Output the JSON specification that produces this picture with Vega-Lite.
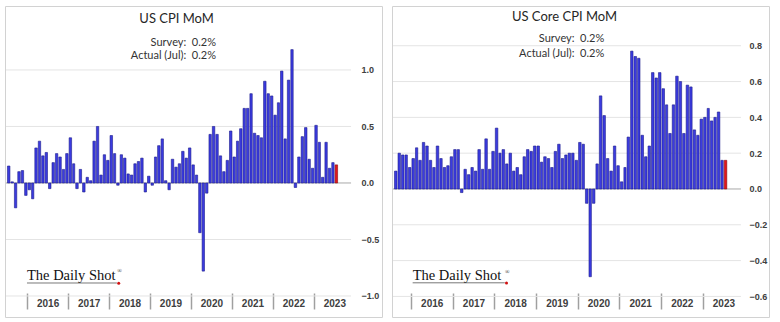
{
  "$schema": "https://vega.github.io/schema/vega-lite/v6.json",
  "padding": {"left": 4, "top": 5, "right": 0, "bottom": 0},
  "background": "white",
  "bounds": "flush",
  "spacing": 10,
  "datasets": {
    "m": [
      {"d":"2015-07-15","cpi":0.15,"core":null},
      {"d":"2015-08-15","cpi":0.01,"core":0.10},
      {"d":"2015-09-15","cpi":-0.22,"core":0.20},
      {"d":"2015-10-15","cpi":0.10,"core":0.19},
      {"d":"2015-11-15","cpi":0.11,"core":0.19},
      {"d":"2015-12-15","cpi":-0.11,"core":0.12},
      {"d":"2016-01-15","cpi":-0.06,"core":0.17},
      {"d":"2016-02-15","cpi":-0.14,"core":0.23},
      {"d":"2016-03-15","cpi":0.31,"core":0.16},
      {"d":"2016-04-15","cpi":0.37,"core":0.26},
      {"d":"2016-05-15","cpi":0.24,"core":0.24},
      {"d":"2016-06-15","cpi":0.27,"core":0.16},
      {"d":"2016-07-15","cpi":-0.05,"core":0.12},
      {"d":"2016-08-15","cpi":0.18,"core":0.24},
      {"d":"2016-09-15","cpi":0.26,"core":0.17},
      {"d":"2016-10-15","cpi":0.23,"core":0.12},
      {"d":"2016-11-15","cpi":0.12,"core":0.13},
      {"d":"2016-12-15","cpi":0.26,"core":0.18},
      {"d":"2017-01-15","cpi":0.40,"core":0.22},
      {"d":"2017-02-15","cpi":0.17,"core":0.22},
      {"d":"2017-03-15","cpi":-0.05,"core":-0.02},
      {"d":"2017-04-15","cpi":0.12,"core":0.11},
      {"d":"2017-05-15","cpi":-0.08,"core":0.08},
      {"d":"2017-06-15","cpi":0.05,"core":0.12},
      {"d":"2017-07-15","cpi":0.02,"core":0.10},
      {"d":"2017-08-15","cpi":0.37,"core":0.22},
      {"d":"2017-09-15","cpi":0.50,"core":0.11},
      {"d":"2017-10-15","cpi":0.07,"core":0.28},
      {"d":"2017-11-15","cpi":0.25,"core":0.11},
      {"d":"2017-12-15","cpi":0.20,"core":0.21},
      {"d":"2018-01-15","cpi":0.42,"core":0.34},
      {"d":"2018-02-15","cpi":0.26,"core":0.20},
      {"d":"2018-03-15","cpi":-0.02,"core":0.22},
      {"d":"2018-04-15","cpi":0.25,"core":0.14},
      {"d":"2018-05-15","cpi":0.22,"core":0.20},
      {"d":"2018-06-15","cpi":0.08,"core":0.10},
      {"d":"2018-07-15","cpi":0.07,"core":0.12},
      {"d":"2018-08-15","cpi":0.17,"core":0.08},
      {"d":"2018-09-15","cpi":0.19,"core":0.18},
      {"d":"2018-10-15","cpi":0.22,"core":0.22},
      {"d":"2018-11-15","cpi":-0.08,"core":0.21},
      {"d":"2018-12-15","cpi":0.06,"core":0.24},
      {"d":"2019-01-15","cpi":-0.02,"core":0.24},
      {"d":"2019-02-15","cpi":0.23,"core":0.15},
      {"d":"2019-03-15","cpi":0.33,"core":0.18},
      {"d":"2019-04-15","cpi":0.39,"core":0.17},
      {"d":"2019-05-15","cpi":0.02,"core":0.12},
      {"d":"2019-06-15","cpi":-0.06,"core":0.21},
      {"d":"2019-07-15","cpi":0.21,"core":0.25},
      {"d":"2019-08-15","cpi":0.14,"core":0.17},
      {"d":"2019-09-15","cpi":0.17,"core":0.19},
      {"d":"2019-10-15","cpi":0.28,"core":0.20},
      {"d":"2019-11-15","cpi":0.22,"core":0.20},
      {"d":"2019-12-15","cpi":0.31,"core":0.16},
      {"d":"2020-01-15","cpi":0.16,"core":0.26},
      {"d":"2020-02-15","cpi":0.07,"core":0.25},
      {"d":"2020-03-15","cpi":-0.44,"core":-0.08},
      {"d":"2020-04-15","cpi":-0.78,"core":-0.49},
      {"d":"2020-05-15","cpi":-0.09,"core":-0.08},
      {"d":"2020-06-15","cpi":0.43,"core":0.14},
      {"d":"2020-07-15","cpi":0.50,"core":0.52},
      {"d":"2020-08-15","cpi":0.43,"core":0.41},
      {"d":"2020-09-15","cpi":0.24,"core":0.17},
      {"d":"2020-10-15","cpi":0.10,"core":0.10},
      {"d":"2020-11-15","cpi":0.20,"core":0.24},
      {"d":"2020-12-15","cpi":0.46,"core":0.13},
      {"d":"2021-01-15","cpi":0.23,"core":0.04},
      {"d":"2021-02-15","cpi":0.37,"core":0.12},
      {"d":"2021-03-15","cpi":0.48,"core":0.29},
      {"d":"2021-04-15","cpi":0.66,"core":0.77},
      {"d":"2021-05-15","cpi":0.66,"core":0.74},
      {"d":"2021-06-15","cpi":0.79,"core":0.73},
      {"d":"2021-07-15","cpi":0.44,"core":0.30},
      {"d":"2021-08-15","cpi":0.42,"core":0.18},
      {"d":"2021-09-15","cpi":0.40,"core":0.24},
      {"d":"2021-10-15","cpi":0.90,"core":0.65},
      {"d":"2021-11-15","cpi":0.79,"core":0.62},
      {"d":"2021-12-15","cpi":0.77,"core":0.65},
      {"d":"2022-01-15","cpi":0.60,"core":0.56},
      {"d":"2022-02-15","cpi":0.71,"core":0.47},
      {"d":"2022-03-15","cpi":0.99,"core":0.31},
      {"d":"2022-04-15","cpi":0.39,"core":0.47},
      {"d":"2022-05-15","cpi":0.91,"core":0.63},
      {"d":"2022-06-15","cpi":1.18,"core":0.60},
      {"d":"2022-07-15","cpi":-0.04,"core":0.31},
      {"d":"2022-08-15","cpi":0.23,"core":0.58},
      {"d":"2022-09-15","cpi":0.41,"core":0.57},
      {"d":"2022-10-15","cpi":0.49,"core":0.33},
      {"d":"2022-11-15","cpi":0.21,"core":0.30},
      {"d":"2022-12-15","cpi":0.13,"core":0.39},
      {"d":"2023-01-15","cpi":0.51,"core":0.40},
      {"d":"2023-02-15","cpi":0.36,"core":0.45},
      {"d":"2023-03-15","cpi":0.05,"core":0.38},
      {"d":"2023-04-15","cpi":0.36,"core":0.40},
      {"d":"2023-05-15","cpi":0.13,"core":0.43},
      {"d":"2023-06-15","cpi":0.18,"core":0.16},
      {"d":"2023-07-15","cpi":0.16,"core":0.16}
    ],
    "gridL": [{"g": -1}, {"g": -0.5}, {"g": 0.5}, {"g": 1}],
    "gridR": [{"g": -0.6}, {"g": -0.4}, {"g": -0.2}, {"g": 0.2}, {"g": 0.4}, {"g": 0.6}, {"g": 0.8}]
  },
  "hconcat": [
    {
      "width": 377,
      "height": 311,
      "encoding": {
        "x": {
          "type": "temporal",
          "scale": {"domain": [{"year": 2015, "month": 6, "date": 18}, {"year": 2024, "month": 8, "date": 31}]},
          "axis": {
            "orient": "bottom", "offset": -24, "title": null,
            "values": [{"year":2016,"month":1,"date":1},{"year":2017,"month":1,"date":1},{"year":2018,"month":1,"date":1},{"year":2019,"month":1,"date":1},{"year":2020,"month":1,"date":1},{"year":2021,"month":1,"date":1},{"year":2022,"month":1,"date":1},{"year":2023,"month":1,"date":1}],
            "format": "%Y", "domain": false, "grid": false,
            "tickSize": 16, "tickColor": "#a0a0a0", "tickWidth": 1.5,
            "labelPadding": -10.5, "labelOffset": 20.5, "labelOverlap": false, "labelFlush": false,
            "labelFont": "Liberation Sans", "labelFontSize": 10, "labelFontWeight": "bold", "labelColor": "#404040"
          }
        },
        "y": {
          "type": "quantitative",
          "scale": {"domain": [-1.186, 1.566], "nice": false, "zero": false},
          "axis": {
            "orient": "right", "offset": -29, "title": null,
            "values": [-1, -0.5, 0, 0.5, 1], "format": ".1f",
            "domain": false, "ticks": false, "grid": false, "labelPadding": 8,
            "labelFont": "Liberation Sans", "labelFontSize": 9, "labelFontWeight": "bold", "labelColor": "#404040"
          }
        }
      },
      "layer": [
        {
          "data": {"name": "gridL"},
          "mark": {"type": "rule", "color": "#e4e4e4", "strokeWidth": 1},
          "encoding": {
            "y": {"field": "g"},
            "x": {"datum": {"year": 2015, "month": 6, "date": 27}},
            "x2": {"datum": {"year": 2023, "month": 11, "date": 29}}
          }
        },
        {
          "data": {"values": [{}]},
          "mark": {"type": "rule", "color": "#a8a8a8", "strokeWidth": 1},
          "encoding": {
            "y": {"datum": 0},
            "x": {"datum": {"year": 2015, "month": 6, "date": 27}},
            "x2": {"datum": {"year": 2023, "month": 11, "date": 29}}
          }
        },
        {
          "data": {"name": "m"},
          "mark": {"type": "bar", "strokeWidth": 0.6},
          "encoding": {
            "x": {"field": "d", "timeUnit": "yearmonth"},
            "y": {"field": "cpi"},
            "fill": {"condition": {"test": "year(datum.d) == 2023 && month(datum.d) == 6", "value": "#e3151b"}, "value": "#3b3be0"},
            "stroke": {"condition": {"test": "year(datum.d) == 2023 && month(datum.d) == 6", "value": "#8a0a0a"}, "value": "#1c1c8c"}
          }
        },
        {
          "data": {"values": [{}]},
          "mark": {"type": "text", "font": "Lato", "fontSize": 13, "align": "center", "baseline": "middle", "color": "#262626"},
          "encoding": {
            "x": {"datum": {"year": 2019, "month": 8, "date": 26}},
            "y": {"datum": 1.451},
            "text": {"value": "US CPI MoM"}
          }
        },
        {
          "data": {"values": [{}]},
          "mark": {"type": "text", "font": "Lato", "fontSize": 11, "align": "right", "baseline": "middle", "color": "#333333"},
          "encoding": {
            "x": {"datum": {"year": 2020, "month": 8, "date": 12}},
            "y": {"datum": 1.241},
            "text": {"value": "Survey:\u00a0 0.2%"}
          }
        },
        {
          "data": {"values": [{}]},
          "mark": {"type": "text", "font": "Lato", "fontSize": 11, "align": "right", "baseline": "middle", "color": "#333333"},
          "encoding": {
            "x": {"datum": {"year": 2020, "month": 8, "date": 12}},
            "y": {"datum": 1.124},
            "text": {"value": "Actual (Jul):\u00a0 0.2%"}
          }
        },
        {
          "data": {"values": [{}]},
          "mark": {"type": "text", "font": "Liberation Serif", "fontSize": 14.5, "align": "left", "baseline": "alphabetic", "color": "#111111"},
          "encoding": {
            "x": {"datum": {"year": 2015, "month": 12, "date": 31}},
            "y": {"datum": -0.863},
            "text": {"value": "The Daily Shot"}
          }
        },
        {
          "data": {"values": [{}]},
          "mark": {"type": "rule", "color": "#555555", "strokeWidth": 0.8},
          "encoding": {
            "x": {"datum": {"year": 2015, "month": 12, "date": 31}},
            "x2": {"datum": {"year": 2018, "month": 3, "date": 12}},
            "y": {"datum": -0.885}
          }
        },
        {
          "data": {"values": [{}]},
          "mark": {"type": "point", "filled": true, "color": "#d01010", "size": 9, "opacity": 1},
          "encoding": {
            "x": {"datum": {"year": 2018, "month": 3, "date": 28}},
            "y": {"datum": -0.887}
          }
        },
        {
          "data": {"values": [{}]},
          "mark": {"type": "text", "font": "Liberation Serif", "fontSize": 6, "align": "center", "baseline": "middle", "color": "#222222"},
          "encoding": {
            "x": {"datum": {"year": 2018, "month": 4, "date": 4}},
            "y": {"datum": -0.78},
            "text": {"value": "®"}
          }
        }
      ]
    },
    {
      "width": 377,
      "height": 311,
      "encoding": {
        "x": {
          "type": "temporal",
          "scale": {"domain": [{"year": 2015, "month": 7, "date": 19}, {"year": 2024, "month": 8, "date": 5}]},
          "axis": {
            "orient": "bottom", "offset": -24, "title": null,
            "values": [{"year":2016,"month":1,"date":1},{"year":2017,"month":1,"date":1},{"year":2018,"month":1,"date":1},{"year":2019,"month":1,"date":1},{"year":2020,"month":1,"date":1},{"year":2021,"month":1,"date":1},{"year":2022,"month":1,"date":1},{"year":2023,"month":1,"date":1}],
            "format": "%Y", "domain": false, "grid": false,
            "tickSize": 16, "tickColor": "#a0a0a0", "tickWidth": 1.5,
            "labelPadding": -10.5, "labelOffset": 20.8, "labelOverlap": false, "labelFlush": false,
            "labelFont": "Liberation Sans", "labelFontSize": 10, "labelFontWeight": "bold", "labelColor": "#404040"
          }
        },
        "y": {
          "type": "quantitative",
          "scale": {"domain": [-0.715, 1.022], "nice": false, "zero": false},
          "axis": {
            "orient": "right", "offset": -28, "title": null,
            "values": [-0.6, -0.4, -0.2, 0, 0.2, 0.4, 0.6, 0.8], "format": ".1f",
            "domain": false, "ticks": false, "grid": false, "labelPadding": 8,
            "labelFont": "Liberation Sans", "labelFontSize": 9, "labelFontWeight": "bold", "labelColor": "#404040"
          }
        }
      },
      "layer": [
        {
          "data": {"name": "gridR"},
          "mark": {"type": "rule", "color": "#e4e4e4", "strokeWidth": 1},
          "encoding": {
            "y": {"field": "g"},
            "x": {"datum": {"year": 2015, "month": 7, "date": 28}},
            "x2": {"datum": {"year": 2023, "month": 12, "date": 3}}
          }
        },
        {
          "data": {"values": [{}]},
          "mark": {"type": "rule", "color": "#a8a8a8", "strokeWidth": 1},
          "encoding": {
            "y": {"datum": 0},
            "x": {"datum": {"year": 2015, "month": 7, "date": 28}},
            "x2": {"datum": {"year": 2023, "month": 12, "date": 3}}
          }
        },
        {
          "data": {"name": "m"},
          "mark": {"type": "bar", "strokeWidth": 0.6},
          "encoding": {
            "x": {"field": "d", "timeUnit": "yearmonth"},
            "y": {"field": "core"},
            "fill": {"condition": {"test": "year(datum.d) == 2023 && month(datum.d) == 6", "value": "#e3151b"}, "value": "#3b3be0"},
            "stroke": {"condition": {"test": "year(datum.d) == 2023 && month(datum.d) == 6", "value": "#8a0a0a"}, "value": "#1c1c8c"}
          }
        },
        {
          "data": {"values": [{}]},
          "mark": {"type": "text", "font": "Lato", "fontSize": 13, "align": "center", "baseline": "middle", "color": "#262626"},
          "encoding": {
            "x": {"datum": {"year": 2019, "month": 9, "date": 8}},
            "y": {"datum": 0.961},
            "text": {"value": "US Core CPI MoM"}
          }
        },
        {
          "data": {"values": [{}]},
          "mark": {"type": "text", "font": "Lato", "fontSize": 11, "align": "right", "baseline": "middle", "color": "#333333"},
          "encoding": {
            "x": {"datum": {"year": 2020, "month": 8, "date": 22}},
            "y": {"datum": 0.836},
            "text": {"value": "Survey:\u00a0 0.2%"}
          }
        },
        {
          "data": {"values": [{}]},
          "mark": {"type": "text", "font": "Lato", "fontSize": 11, "align": "right", "baseline": "middle", "color": "#333333"},
          "encoding": {
            "x": {"datum": {"year": 2020, "month": 8, "date": 22}},
            "y": {"datum": 0.752},
            "text": {"value": "Actual (Jul):\u00a0 0.2%"}
          }
        },
        {
          "data": {"values": [{}]},
          "mark": {"type": "text", "font": "Liberation Serif", "fontSize": 14.5, "align": "left", "baseline": "alphabetic", "color": "#111111"},
          "encoding": {
            "x": {"datum": {"year": 2016, "month": 1, "date": 16}},
            "y": {"datum": -0.510},
            "text": {"value": "The Daily Shot"}
          }
        },
        {
          "data": {"values": [{}]},
          "mark": {"type": "rule", "color": "#555555", "strokeWidth": 0.8},
          "encoding": {
            "x": {"datum": {"year": 2016, "month": 1, "date": 16}},
            "x2": {"datum": {"year": 2018, "month": 4, "date": 3}},
            "y": {"datum": -0.524}
          }
        },
        {
          "data": {"values": [{}]},
          "mark": {"type": "point", "filled": true, "color": "#d01010", "size": 9, "opacity": 1},
          "encoding": {
            "x": {"datum": {"year": 2018, "month": 4, "date": 18}},
            "y": {"datum": -0.525}
          }
        },
        {
          "data": {"values": [{}]},
          "mark": {"type": "text", "font": "Liberation Serif", "fontSize": 6, "align": "center", "baseline": "middle", "color": "#222222"},
          "encoding": {
            "x": {"datum": {"year": 2018, "month": 4, "date": 24}},
            "y": {"datum": -0.462},
            "text": {"value": "®"}
          }
        }
      ]
    }
  ],
  "config": {
    "view": {"stroke": "#d2d2d2", "strokeWidth": 1}
  }
}
